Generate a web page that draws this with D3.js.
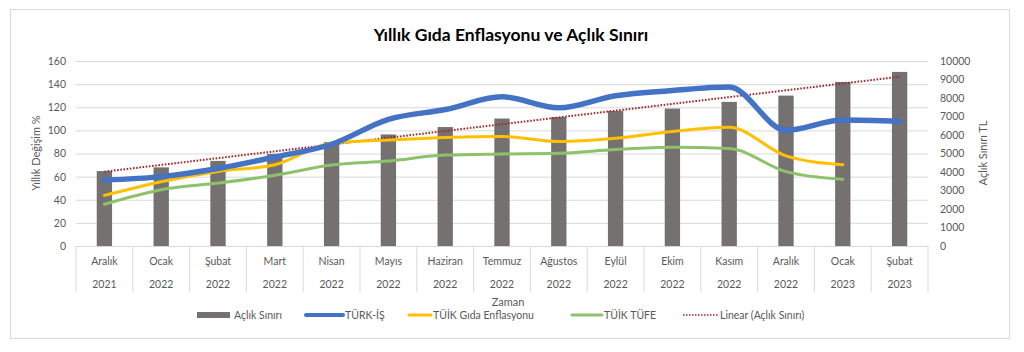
<!DOCTYPE html>
<html>
<head>
<meta charset="utf-8">
<script src="https://cdn.jsdelivr.net/npm/d3@7"></script>
<style>
    body { margin: 0; background: #fff; }
    text { font-family: Lato, "Open Sans", sans-serif; fill: #595959; }
</style>
</head>
<body>
<div id="chart"></div>
<script>
const months = ["Aralık", "Ocak", "Şubat", "Mart", "Nisan", "Mayıs", "Haziran", "Temmuz", "Ağustos", "Eylül", "Ekim", "Kasım", "Aralık", "Ocak", "Şubat"];
const years = ["2021", "2022", "2022", "2022", "2022", "2022", "2022", "2022", "2022", "2022", "2022", "2022", "2022", "2023", "2023"];
const aclikSiniri = [4050, 4250, 4600, 4980, 5620, 6030, 6430, 6890, 6970, 7300, 7430, 7790, 8130, 8870, 9410];
const turkIs = [57, 60, 67, 77, 88, 109.5, 118, 129, 119.5, 130, 134.5, 137.5, 100, 109, 108];
const tuikGida = [43.8, 55.6, 64.5, 70.3, 89.1, 91.6, 93.9, 94.7, 90.3, 93.1, 99.0, 102.6, 77.9, 70.2];
const tuikTufe = [36.1, 48.7, 54.4, 61.1, 70.0, 73.5, 78.6, 79.6, 80.2, 83.5, 85.5, 84.4, 64.3, 57.7];
const leftTicks = [0, 20, 40, 60, 80, 100, 120, 140, 160];
const rightTicks = [0, 1000, 2000, 3000, 4000, 5000, 6000, 7000, 8000, 9000, 10000];

const width = 1024, height = 352;
const margin = { top: 61, right: 96, bottom: 106, left: 76 };
const pw = width - margin.left - margin.right;
const ph = height - margin.top - margin.bottom;

const svg = d3.select("#chart")
    .append("svg")
    .attr("width", width)
    .attr("height", height);

// chart border
svg.append("rect")
    .attr("x", 10.5).attr("y", 9.5)
    .attr("width", 999).attr("height", 329)
    .attr("fill", "#fff")
    .attr("stroke", "#d9d9d9");

svg.append("text")
    .attr("x", 511).attr("y", 41)
    .attr("text-anchor", "middle")
    .style("font-size", "17.5px")
    .style("font-weight", "bold")
    .style("fill", "#000")
    .text("Yıllık Gıda Enflasyonu ve Açlık Sınırı");

const g = svg.append("g")
    .attr("transform", `translate(${margin.left},${margin.top})`);

const idx = months.map((d, i) => i);
const x = d3.scaleBand().domain(idx).range([0, pw]).paddingInner(0.73).paddingOuter(0.365);
const xc = i => x(i) + x.bandwidth() / 2;
const step = pw / months.length;

const yL = d3.scaleLinear().domain([0, 160]).range([ph, 0]);
const yR = d3.scaleLinear().domain([0, 10000]).range([ph, 0]);

// gridlines
g.append("g")
    .call(d3.axisLeft(yL).tickValues(leftTicks).tickSize(-pw).tickFormat(""))
    .call(s => s.select(".domain").remove())
    .selectAll(".tick line").attr("stroke", "#d9d9d9");

// left axis labels
g.append("g")
    .call(d3.axisLeft(yL).tickValues(leftTicks).tickSize(0).tickPadding(10))
    .call(s => s.select(".domain").remove())
    .selectAll("text").style("font-size", "10.5px").style("fill", "#595959");

// right axis labels
g.append("g")
    .attr("transform", `translate(${pw},0)`)
    .call(d3.axisRight(yR).tickValues(rightTicks).tickSize(0).tickPadding(12).tickFormat(d3.format("d")))
    .call(s => s.select(".domain").remove())
    .selectAll("text").style("font-size", "10.5px").style("fill", "#595959");

// category axis: separators and two-level labels
const cat = g.append("g").attr("transform", `translate(0,${ph})`);
cat.selectAll("line.sep")
    .data(d3.range(months.length + 1))
    .join("line")
    .attr("class", "sep")
    .attr("x1", i => i * step).attr("x2", i => i * step)
    .attr("y1", 0).attr("y2", 46)
    .attr("stroke", "#d9d9d9");
cat.selectAll("text.month")
    .data(idx)
    .join("text")
    .attr("class", "month")
    .attr("x", xc).attr("y", 19)
    .attr("text-anchor", "middle")
    .style("font-size", "10.5px")
    .text(i => months[i]);
cat.selectAll("text.year")
    .data(idx)
    .join("text")
    .attr("class", "year")
    .attr("x", xc).attr("y", 42)
    .attr("text-anchor", "middle")
    .style("font-size", "10.5px")
    .text(i => years[i]);

// bars
g.selectAll("rect.bar")
    .data(aclikSiniri)
    .join("rect")
    .attr("class", "bar")
    .attr("x", (d, i) => x(i))
    .attr("y", d => yR(d))
    .attr("width", x.bandwidth())
    .attr("height", d => ph - yR(d))
    .attr("fill", "#767171");

// linear trend of bars (least squares, as in Excel)
const n = aclikSiniri.length;
const mx = d3.mean(idx), my = d3.mean(aclikSiniri);
const slope = d3.sum(idx, i => (i - mx) * (aclikSiniri[i] - my)) / d3.sum(idx, i => (i - mx) ** 2);
const icpt = my - slope * mx;
g.append("line")
    .attr("x1", xc(0)).attr("y1", yR(icpt))
    .attr("x2", xc(n - 1)).attr("y2", yR(icpt + slope * (n - 1)))
    .attr("stroke", "#a3262a")
    .attr("stroke-width", 2)
    .attr("stroke-dasharray", "1.6,1.6");

const line = d3.line()
    .x((d, i) => xc(i))
    .y(d => yL(d))
    .curve(d3.curveMonotoneX);

const series = [
    { name: "TÜİK TÜFE", values: tuikTufe, color: "#8dc26b", w: 3 },
    { name: "TÜİK Gıda Enflasyonu", values: tuikGida, color: "#ffc000", w: 3 },
    { name: "TÜRK-İŞ", values: turkIs, color: "#4472c4", w: 5.5 }
];

g.selectAll("path.series")
    .data(series)
    .join("path")
    .attr("class", "series")
    .attr("d", d => line(d.values))
    .attr("fill", "none")
    .attr("stroke", d => d.color)
    .attr("stroke-width", d => d.w)
    .attr("stroke-linejoin", "round")
    .attr("stroke-linecap", "round");

// axis titles
svg.append("text")
    .attr("transform", "translate(40,153) rotate(-90)")
    .attr("text-anchor", "middle")
    .style("font-size", "11px")
    .text("Yıllık Değişim %");
svg.append("text")
    .attr("transform", "translate(987,153) rotate(-90)")
    .attr("text-anchor", "middle")
    .style("font-size", "11px")
    .text("Açlık Sınırı TL");
svg.append("text")
    .attr("x", 508).attr("y", 306)
    .attr("text-anchor", "middle")
    .style("font-size", "11px")
    .text("Zaman");

// legend
const legend = svg.append("g").attr("class", "legend");
const items = [
    { name: "Açlık Sınırı", x: 197, tx: 234, type: "rect", color: "#767171" },
    { name: "TÜRK-İŞ", x: 306, tx: 345, type: "line", color: "#4472c4", w: 4 },
    { name: "TÜİK Gıda Enflasyonu", x: 409, tx: 433, type: "line", color: "#ffc000", w: 3 },
    { name: "TÜİK TÜFE", x: 572, tx: 604, type: "line", color: "#8dc26b", w: 3 },
    { name: "Linear (Açlık Sınırı)", x: 683, tx: 720, type: "dot", color: "#a3262a", w: 1.5 }
];
const ly = 315;
items.forEach(it => {
    if (it.type === "rect") {
        legend.append("rect")
            .attr("x", it.x).attr("y", ly - 3)
            .attr("width", it.tx - it.x - 4).attr("height", 6)
            .attr("fill", it.color);
    } else {
        legend.append("line")
            .attr("x1", it.x).attr("x2", it.tx - 2)
            .attr("y1", ly).attr("y2", ly)
            .attr("stroke", it.color)
            .attr("stroke-width", it.w)
            .attr("stroke-linecap", it.type === "dot" ? "butt" : "round")
            .attr("stroke-dasharray", it.type === "dot" ? "1.5,1.5" : null);
    }
    legend.append("text")
        .attr("x", it.tx).attr("y", ly + 4)
        .style("font-size", "10.5px")
        .text(it.name);
});
</script>
</body>
</html>
